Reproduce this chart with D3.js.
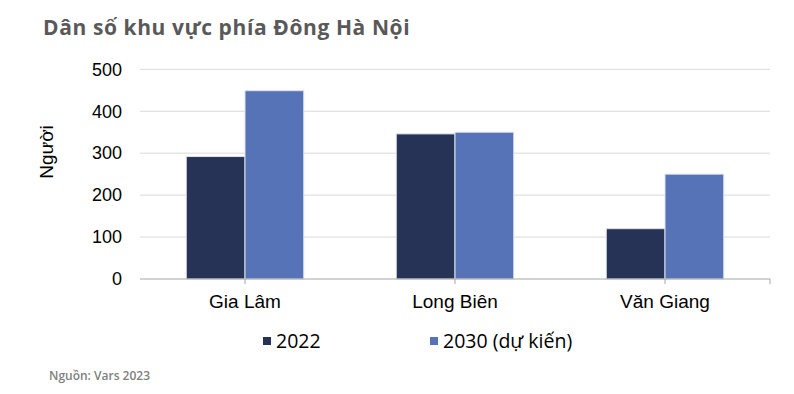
<!DOCTYPE html>
<html>
<head>
<meta charset="utf-8">
<script src="https://cdn.jsdelivr.net/npm/d3@7"></script>
<style>
  body { margin: 0; background: #fff; }
  svg { display: block; }
</style>
</head>
<body>
<svg></svg>
<script>
// chart size
var width = 794;
var height = 394;

// data
var categories = ["Gia Lâm", "Long Biên", "Văn Giang"];
var seriesNames = ["2022", "2030 (dự kiến)"];
var values2022 = [292, 346, 120];
var values2030 = [449, 350, 250];
var yTicks = [0, 100, 200, 300, 400, 500];

var colors = ["#263356", "#5573b6"];

var svg = d3.select("svg")
    .attr("width", width)
    .attr("height", height);

// plot area
var plotLeft = 140, plotRight = 770, plotTop = 69.3, plotBottom = 279;

var x0 = d3.scaleBand()
    .domain(categories)
    .range([plotLeft, plotRight])
    .padding(0);

var x1 = d3.scaleBand()
    .domain(seriesNames)
    .range([0, x0.bandwidth()])
    .paddingInner(0)
    .paddingOuter(0.787);

var y = d3.scaleLinear()
    .domain([0, 500])
    .range([plotBottom, plotTop]);

// title
svg.append("text")
    .attr("x", 43)
    .attr("y", 35)
    .style("font-family", "'Open Sans', sans-serif")
    .style("font-weight", 700)
    .style("font-size", "21px")
    .style("letter-spacing", "0.6px")
    .style("fill", "#595959")
    .text("Dân số khu vực phía Đông Hà Nội");

// gridlines
svg.append("g")
    .selectAll("line")
    .data(yTicks.filter(function(d) { return d > 0; }))
    .enter().append("line")
    .attr("x1", plotLeft)
    .attr("x2", plotRight)
    .attr("y1", function(d) { return y(d); })
    .attr("y2", function(d) { return y(d); })
    .style("stroke", "#d9d9d9")
    .style("stroke-width", 1);

// y axis labels
var yAxis = svg.append("g")
    .attr("transform", "translate(" + plotLeft + ",0)")
    .call(d3.axisLeft(y).tickValues(yTicks).tickSize(0).tickPadding(18));
yAxis.select(".domain").remove();
yAxis.selectAll("text")
    .style("font-family", "'Liberation Sans', Arial, sans-serif")
    .style("font-size", "18px")
    .style("fill", "#000");

// y axis title
svg.append("text")
    .attr("transform", "translate(53,152) rotate(-90)")
    .attr("text-anchor", "middle")
    .style("font-family", "'Liberation Sans', Arial, sans-serif")
    .style("font-size", "19px")
    .style("fill", "#000")
    .text("Người");

// bars
var table = categories.map(function(c, i) {
    return { cat: c, vals: [values2022[i], values2030[i]] };
});

var groups = svg.append("g")
    .selectAll("g")
    .data(table)
    .enter().append("g")
    .attr("transform", function(d) { return "translate(" + x0(d.cat) + ",0)"; });

groups.selectAll("rect")
    .data(function(d) {
        return d.vals.map(function(v, j) { return { name: seriesNames[j], value: v, j: j }; });
    })
    .enter().append("rect")
    .attr("x", function(d) { return x1(d.name); })
    .attr("width", x1.bandwidth())
    .attr("y", function(d) { return y(d.value); })
    .attr("height", function(d) { return y(0) - y(d.value); })
    .style("fill", function(d) { return colors[d.j]; })
    .style("stroke", "#dfe3ec")
    .style("stroke-width", 1);

// x axis line + ticks
var xAxisG = svg.append("g");
xAxisG.append("line")
    .attr("x1", plotLeft)
    .attr("x2", plotRight)
    .attr("y1", plotBottom)
    .attr("y2", plotBottom)
    .style("stroke", "#a6a6a6")
    .style("stroke-width", 1);

var tickPos = categories.map(function(c) { return x0(c) + x0.bandwidth() / 2; }).concat([plotRight]);
xAxisG.selectAll(".tk")
    .data(tickPos)
    .enter().append("line")
    .attr("class", "tk")
    .attr("x1", function(d) { return d; })
    .attr("x2", function(d) { return d; })
    .attr("y1", plotBottom)
    .attr("y2", plotBottom + 5)
    .style("stroke", "#a6a6a6")
    .style("stroke-width", 1);

// x labels
xAxisG.selectAll(".xl")
    .data(categories)
    .enter().append("text")
    .attr("class", "xl")
    .attr("x", function(d) { return x0(d) + x0.bandwidth() / 2; })
    .attr("y", 308)
    .attr("text-anchor", "middle")
    .style("font-family", "'Liberation Sans', Arial, sans-serif")
    .style("font-size", "19px")
    .style("fill", "#000")
    .text(function(d) { return d; });

// legend
var legendX = [263, 430];
var legend = svg.append("g")
    .selectAll("g")
    .data(seriesNames)
    .enter().append("g")
    .attr("transform", function(d, i) { return "translate(" + legendX[i] + ",337)"; });

legend.append("rect")
    .attr("width", 8)
    .attr("height", 8)
    .style("fill", function(d, i) { return colors[i]; });

legend.append("text")
    .attr("x", 13)
    .attr("y", 11)
    .style("font-family", "'Open Sans', sans-serif")
    .style("font-size", "19.5px")
    .style("fill", "#000")
    .text(function(d) { return d; });

// source
svg.append("text")
    .attr("x", 49)
    .attr("y", 380)
    .style("font-family", "'Open Sans', sans-serif")
    .style("font-weight", 600)
    .style("font-size", "12px")
    .style("fill", "#808080")
    .text("Nguồn: Vars 2023");
</script>
</body>
</html>
